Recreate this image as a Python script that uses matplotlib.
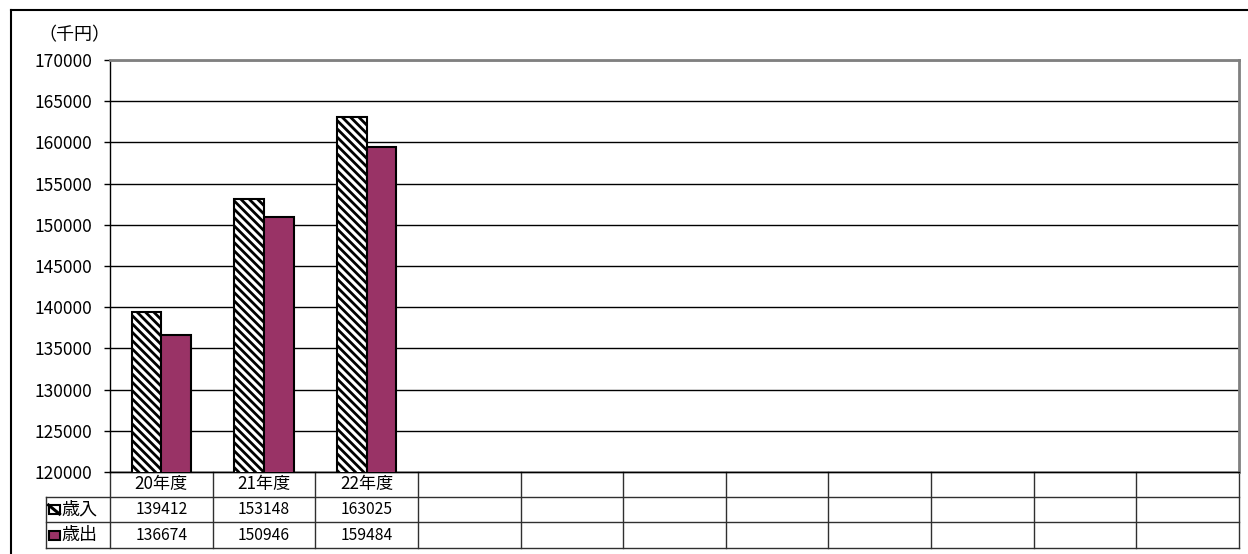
import matplotlib
matplotlib.use("Agg")
import matplotlib.pyplot as plt
from matplotlib.patches import Rectangle
from matplotlib.lines import Line2D
from matplotlib.transforms import blended_transform_factory

plt.rcParams['font.family'] = ['Noto Sans CJK JP', 'DejaVu Sans']
plt.rcParams['hatch.linewidth'] = 2.0

categories = ['20年度', '21年度', '22年度', '', '', '', '', '', '', '', '']
income = [139412, 153148, 163025]
expense = [136674, 150946, 159484]
series_names = ['歳入', '歳出']
unit_label = '（千円）'
yticks = list(range(120000, 170001, 5000))

W, H = 1248, 554
fig = plt.figure(figsize=(W / 100, H / 100), dpi=100)

def fx(px):
    return px / W

def fy(py):
    return 1 - py / H

ax_l, ax_r, ax_t, ax_b = 110, 1239, 60, 472
ax = fig.add_axes([fx(ax_l), fy(ax_b), fx(ax_r - ax_l), (ax_b - ax_t) / H])

n = len(categories)
bw = 0.29
purple = '#993366'
x_inc = [i - bw / 2 for i in range(len(income))]
x_exp = [i + bw / 2 for i in range(len(expense))]
ax.bar(x_inc, income, width=bw, facecolor='white', edgecolor='black',
       hatch='\\\\\\\\', linewidth=1.5, zorder=3)
ax.bar(x_exp, expense, width=bw, facecolor=purple, edgecolor='black',
       linewidth=1.5, zorder=3)

ax.set_xlim(-0.5, n - 0.5)
ax.set_ylim(yticks[0], yticks[-1])
ax.set_yticks(yticks)
ax.set_yticklabels([str(v) for v in yticks], fontsize=12.5)
ax.set_xticks([])
ax.yaxis.grid(True, color='black', linewidth=1)
ax.set_axisbelow(True)
ax.tick_params(axis='y', length=4, width=1, pad=8.5, color='black')
for side in ['top', 'right']:
    ax.spines[side].set_color('#808080')
    ax.spines[side].set_linewidth(2)
ax.spines['left'].set_color('black')
ax.spines['left'].set_linewidth(1)
ax.spines['bottom'].set_color('black')
ax.spines['bottom'].set_linewidth(1)

fig.text(fx(38), fy(35), unit_label, fontsize=13, ha='left', va='center')

# Data table below the axes
tr = blended_transform_factory(ax.transData, ax.transAxes)
axh = ax_b - ax_t
rows_px = [472, 497, 522, 548]
rows = [-(r - ax_b) / axh for r in rows_px]
leg_left = (46 - ax_l) / (ax_r - ax_l)
lc = '#303030'

for k, r in enumerate(rows):
    x0 = 0 if k == 0 else leg_left
    ax.add_line(Line2D([x0, 1], [r, r], transform=ax.transAxes, color=lc,
                       linewidth=1, clip_on=False))
for i in range(n + 1):
    ax.add_line(Line2D([i - 0.5, i - 0.5], [rows[0], rows[-1]], transform=tr,
                       color=lc, linewidth=1, clip_on=False))
ax.add_line(Line2D([leg_left, leg_left], [rows[1], rows[-1]], transform=ax.transAxes,
                   color=lc, linewidth=1, clip_on=False))

for i, c in enumerate(categories):
    ax.text(i, (rows[0] + rows[1]) / 2, c, transform=tr, ha='center', va='center',
            fontsize=12.3, clip_on=False)
for i, v in enumerate(income):
    ax.text(i, (rows[1] + rows[2]) / 2, str(v), transform=tr, ha='center', va='center',
            fontsize=11.3, clip_on=False)
for i, v in enumerate(expense):
    ax.text(i, (rows[2] + rows[3]) / 2, str(v), transform=tr, ha='center', va='center',
            fontsize=11.3, clip_on=False)

# legend keys inside table
axw = ax_r - ax_l
key_w = 11 / axw
key_h = 9 / axh
key_x = (48.5 - ax_l) / axw
for k, (name, fcol) in enumerate([(series_names[0], 'white'), (series_names[1], purple)]):
    yc = (rows[k + 1] + rows[k + 2]) / 2
    ax.add_patch(Rectangle((key_x, yc - key_h / 2), key_w, key_h, transform=ax.transAxes,
                           facecolor=fcol, edgecolor='black', linewidth=1.5,
                           clip_on=False))
    if k == 0:
        ax.add_line(Line2D([key_x, key_x + key_w], [yc + key_h / 2, yc - key_h / 2],
                           transform=ax.transAxes, color='black', linewidth=2.2,
                           clip_on=False))
    ax.text((61 - ax_l) / axw, yc, name, transform=ax.transAxes,
            ha='left', va='center', fontsize=13, clip_on=False)

# outer frame
fig.add_artist(Line2D([fx(11), 1], [fy(10), fy(10)], color='black', linewidth=1.5))
fig.add_artist(Line2D([fx(11), fx(11)], [fy(10), 0], color='black', linewidth=1.5))

fig.savefig('out.png', dpi=100)
